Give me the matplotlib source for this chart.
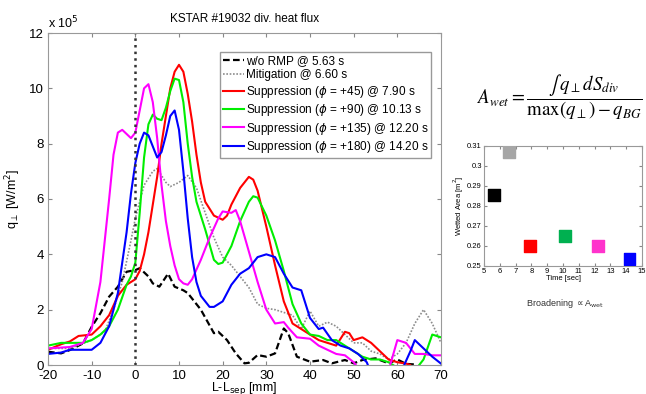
import matplotlib
matplotlib.use("Agg")
import matplotlib.pyplot as plt

# heat flux profiles, q_perp in units of 1e5 W/m^2 vs L-Lsep [mm]
x_normp = [-20, -17, -15, -12, -10, -8, -6, -4, -2, 0, 1, 3, 4, 5.5, 7.5, 9, 11, 12, 15, 18, 19,
           21, 23, 25, 26, 28, 30, 32, 34, 35, 37, 40, 43, 45, 48, 50, 52, 55, 58, 60, 62, 64]
q_normp = [0.48, 0.42, 0.54, 0.78, 1.38, 1.87, 2.47, 2.83, 3.37, 3.43, 3.5, 3.2, 2.95, 2.83, 3.3,
           2.83, 2.7, 2.6, 2.0, 1.15, 1.2, 0.9, 0.42, 0.06, 0.08, 0.36, 0.3, 0.42, 1.32, 1.15, 0.3,
           0.12, 0.18, 0.06, 0.18, 0.06, 0.18, 0.24, 0.06, 0.2, 0.04, 0.02]

x_mitig = [-20, -15, -10, -7, -5, -3, -1, 0, 2, 4, 5, 7, 8, 10, 12, 14, 16, 18, 20, 22, 24, 26,
           28, 30, 32, 34, 36, 38, 40, 42, 44, 46, 48, 50, 52, 54, 56, 58, 60, 62, 64, 66, 68, 70]
q_mitig = [0.6, 0.6, 0.9, 1.2, 2.0, 3.0, 4.5, 5.3, 6.5, 7.0, 7.1, 6.6, 6.45, 6.6, 6.85, 6.4, 5.5,
           4.6, 3.9, 3.6, 3.2, 2.8, 2.2, 2.05, 2.0, 1.9, 1.8, 1.3, 1.95, 1.4, 1.55, 1.4, 1.1, 0.8,
           0.8, 0.5, 0.4, 0.2, 0.4, 0.8, 1.5, 2.0, 1.5, 0.8]

x_p45 = [-20, -17, -15, -13, -10, -8, -6, -4, -2, 0, 1, 2, 3, 4, 5, 6, 7, 8, 9, 10, 11, 12, 13,
         14, 15, 16, 18, 20, 21, 22, 24, 26, 27, 28, 30, 32, 34, 36, 38, 40, 42, 44, 46, 48, 49,
         50, 52, 54, 56, 58, 60, 62, 63, 64]
q_p45 = [0.55, 0.75, 0.85, 1.05, 1.1, 1.4, 1.8, 2.5, 2.9, 3.1, 3.4, 4.0, 4.8, 5.8, 6.8, 8.0, 9.0,
         10.0, 10.6, 10.85, 10.6, 9.8, 8.8, 7.6, 6.6, 5.9, 5.4, 5.25, 5.4, 5.8, 6.4, 6.8, 6.7, 6.3,
         5.0, 3.6, 2.3, 1.5, 1.3, 1.1, 0.9, 0.8, 0.7, 1.2, 1.15, 0.9, 1.0, 0.8, 0.5, 0.2, 0.1,
         0.05, 0.0, -0.3]

x_p90 = [-20, -17, -15, -12, -10, -8, -6, -4, -2, -1, 0, 1, 2, 3, 4, 5, 6, 7, 8, 9, 10, 11, 12,
         13, 14, 16, 18, 19, 20, 22, 24, 26, 27, 28, 30, 32, 34, 36, 38, 40, 42, 44, 46, 48, 50,
         52, 54, 56, 58, 62, 64, 66, 68, 70]
q_p90 = [0.7, 0.8, 0.8, 0.8, 0.9, 1.1, 1.4, 2.0, 2.9, 3.2, 3.7, 5.5, 7.5, 8.7, 9.05, 8.9, 8.85,
         9.3, 9.9, 10.35, 10.3, 9.5, 8.0, 6.8, 5.9, 4.9, 3.8, 3.65, 3.7, 4.3, 5.2, 5.9, 6.1, 6.05,
         5.4, 4.5, 3.4, 2.2, 1.5, 1.1, 1.05, 0.9, 0.9, 0.7, 0.5, 0.3, 0.2, 0.2, 0.1, -0.3, -0.2,
         0.2, 1.1, 1.0]

x_p135 = [-20, -15, -12, -10, -8, -6, -5, -4, -3, -2, -1, 0, 1, 2, 3, 4, 5, 6, 7, 8, 9, 10, 11,
          12, 13, 15, 17, 19, 20, 22, 23, 24, 26, 28, 30, 32, 34, 35, 37, 40, 42, 44, 46, 48, 50,
          52, 58, 60, 62, 64, 66, 68, 70]
q_p135 = [0.6, 0.65, 0.8, 1.3, 3.0, 6.0, 7.6, 8.4, 8.5, 8.35, 8.2, 8.4, 9.2, 10.0, 10.15, 9.5,
          8.2, 6.5, 5.2, 4.3, 3.6, 3.1, 2.95, 2.9, 3.1, 3.8, 4.6, 5.3, 5.55, 5.5, 5.6, 5.2, 4.1,
          3.0, 2.0, 1.5, 1.55, 1.35, 1.0, 0.95, 0.7, 0.55, 0.4, 0.35, 0.1, -0.3, -0.2, 0.9, 0.8,
          0.4, 0.4, 0.35, 0.35]

x_p180 = [-20, -17, -15, -12, -10, -8, -6, -4, -2, -1, 0, 1, 2, 3, 4, 5, 6, 7, 8, 9, 10, 11, 12,
          13, 14, 15, 17, 18, 20, 22, 24, 26, 28, 30, 32, 34, 36, 38, 40, 42, 43, 45, 47, 49, 51,
          53, 54, 61, 63, 64, 66, 68, 70]
q_p180 = [0.4, 0.45, 0.55, 0.55, 0.55, 0.8, 1.4, 2.6, 4.8, 6.2, 7.3, 8.0, 8.4, 8.3, 7.9, 7.5, 7.7,
          8.3, 9.0, 9.2, 8.5, 7.0, 5.3, 3.9, 3.0, 2.5, 2.1, 2.1, 2.3, 2.9, 3.3, 3.5, 3.9, 4.0, 3.9,
          3.3, 2.8, 2.7, 1.7, 1.3, 1.35, 0.9, 0.7, 0.6, 0.4, 0.1, -0.3, -0.2, 0.5, 0.9, 0.6, 0.3,
          0.05]

labels = ["w/o RMP @ 5.63 s", "Mitigation @ 6.60 s",
          r"Suppression ($\phi$ = +45) @ 7.90 s", r"Suppression ($\phi$ = +90) @ 10.13 s",
          r"Suppression ($\phi$ = +135) @ 12.20 s", r"Suppression ($\phi$ = +180) @ 14.20 s"]

# wetted area vs time
t_wet = [5.63, 6.60, 7.90, 10.13, 12.20, 14.20]
a_wet = [0.2855, 0.3070, 0.2600, 0.2650, 0.2600, 0.2535]
wet_colors = ["black", "#a6a6a6", "red", "#00b050", "#ff33cc", "blue"]

plt.rcParams["font.family"] = ["Liberation Sans", "DejaVu Sans"]
plt.rcParams["mathtext.fontset"] = "dejavusans"
plt.rcParams["axes.unicode_minus"] = False

fig = plt.figure(figsize=(6.46, 3.94), dpi=100)
W, H = 646, 394
ax = fig.add_axes([48 / W, 1 - 365 / H, (441 - 48) / W, (365 - 33) / H])

ax.plot(x_normp, q_normp, color="black", ls=(0, (3, 1.5)), lw=1.6, label=labels[0])
ax.plot(x_mitig, q_mitig, color="#8c8c8c", ls=(0, (1, 1)), lw=1.2, label=labels[1])
ax.plot(x_p45, q_p45, color="red", lw=1.5, label=labels[2])
ax.plot(x_p90, q_p90, color="#00ee00", lw=1.5, label=labels[3])
ax.plot(x_p135, q_p135, color="#ff00ff", lw=1.5, label=labels[4])
ax.plot(x_p180, q_p180, color="blue", lw=1.5, label=labels[5])
ax.axvline(0, color="#333333", ls=":", lw=1.8)

ax.set_xlim(-20, 70)
ax.set_ylim(0, 12)
ax.set_xticks(range(-20, 71, 10))
ax.set_yticks(range(0, 13, 2))
ax.tick_params(direction="in", top=True, right=True, labelsize=9.5, length=3,
               color="#888888")
ax.tick_params(axis="x", pad=3.5)
ax.tick_params(axis="y", pad=3)
for s in ax.spines.values():
    s.set_color("#999999")
ax.text(0.0, 1.005, r"x 10$^5$", transform=ax.transAxes, fontsize=9, ha="left", va="bottom")
ax.set_title("KSTAR #19032 div. heat flux", fontsize=8.5, pad=8)
ax.set_ylabel(r"q$_\perp$ [W/m$^2$]", fontsize=9, labelpad=4)
ax.set_xlabel(r"L-L$_{\mathrm{sep}}$ [mm]", fontsize=9, labelpad=-1)
leg = ax.legend(loc="upper right", bbox_to_anchor=(0.99, 0.96), fontsize=8.5, handlelength=1.8,
                handletextpad=0.1, borderpad=0.25, labelspacing=0.2, fancybox=False,
                framealpha=1)
leg.get_frame().set_edgecolor("#999999")

# formula
fig.text(560 / W, 1 - 97 / H,
         r"$\mathit{A_{wet}} = \dfrac{\int\, q_\perp dS_{div}}{\max(q_\perp) - q_{BG}}$",
         fontsize=13.5, ha="center", va="center", math_fontfamily="stix")

# inset wetted area plot
ax2 = fig.add_axes([484 / W, 1 - 266 / H, 158 / W, 120 / H])
ax2.scatter(t_wet, a_wet, c=wet_colors, marker="s", s=70, zorder=3)
ax2.set_xlim(5, 15)
ax2.set_ylim(0.25, 0.31)
ax2.set_xticks(range(5, 16))
ax2.set_yticks([0.25, 0.26, 0.27, 0.28, 0.29, 0.30, 0.31])
ax2.set_yticklabels(["0.25", "0.26", "0.27", "0.28", "0.29", "0.3", "0.31"])
ax2.tick_params(direction="in", top=True, right=True, labelsize=5.5, length=2, pad=1.5,
                color="#888888")
for s in ax2.spines.values():
    s.set_color("#999999")
ax2.set_xlabel("Time [sec]", fontsize=5.5, labelpad=0)
ax2.set_ylabel(r"Wetted Area [m$^2$]", fontsize=5.5, labelpad=1)

fig.text(565 / W, 1 - 303 / H, r"Broadening $\propto$A$_{\rm wet}$", fontsize=6.5,
         ha="center", va="center", color="#333333")

fig.savefig("out.png", dpi=100)
